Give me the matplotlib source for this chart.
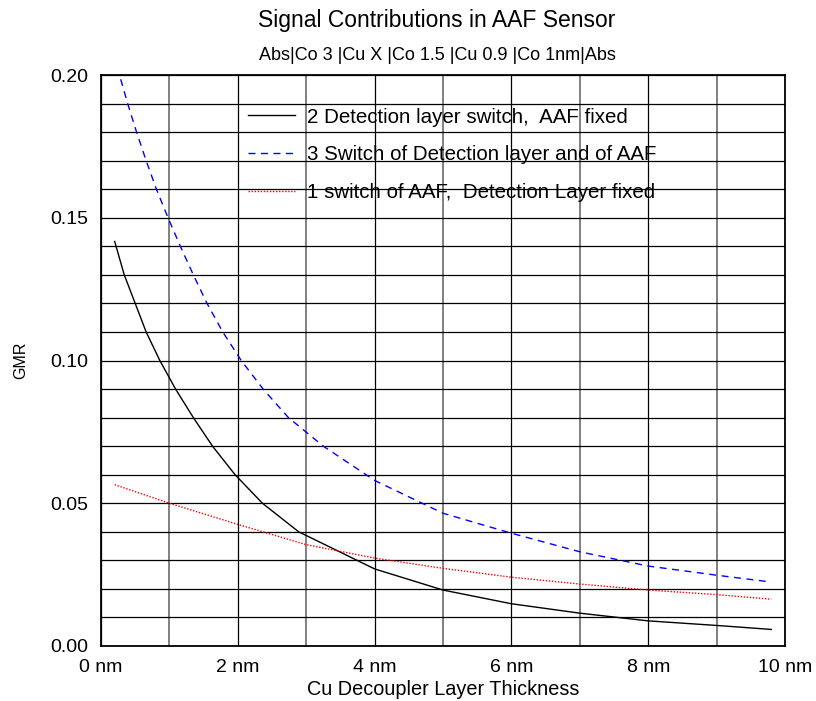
import matplotlib
matplotlib.use("Agg")
import matplotlib.pyplot as plt
import numpy as np

plt.rcParams['font.family'] = ['Liberation Sans', 'DejaVu Sans']

# Data
x_detection = [0.2, 0.34, 0.5, 0.66, 0.86, 1.09, 1.35, 1.63, 1.96, 2.36, 2.89, 4.0, 5.0, 6.0, 7.0, 8.0, 9.0, 9.8]
detection_switch = [0.1417, 0.13, 0.12, 0.11, 0.10, 0.09, 0.08, 0.07, 0.06, 0.05, 0.04, 0.027, 0.0196, 0.0148, 0.0115, 0.0088, 0.0072, 0.0058]

x_both = [0.2, 0.27, 0.39, 0.52, 0.66, 0.81, 0.98, 1.16, 1.35, 1.55, 1.78, 2.05, 2.37, 2.74, 3.25, 4.0, 5.0, 6.0, 7.0, 8.0, 9.0, 9.8]
both_switch = [0.207, 0.20, 0.19, 0.18, 0.17, 0.16, 0.15, 0.14, 0.13, 0.12, 0.11, 0.10, 0.09, 0.08, 0.07, 0.058, 0.0465, 0.0395, 0.033, 0.028, 0.0248, 0.0224]

x_aaf = [0.2, 1.0, 2.0, 3.0, 4.0, 5.0, 6.0, 7.0, 8.0, 9.0, 9.8]
aaf_switch = [0.0565, 0.050, 0.0426, 0.0355, 0.0308, 0.0272, 0.0241, 0.0217, 0.0196, 0.018, 0.0164]

labels = ["2 Detection layer switch,  AAF fixed",
          "3 Switch of Detection layer and of AAF",
          "1 switch of AAF,  Detection Layer fixed"]
x_ticks = [0, 2, 4, 6, 8, 10]
x_minor = [1, 3, 5, 7, 9]
x_ticklabels = ["0 nm", "2 nm", "4 nm", "6 nm", "8 nm", "10 nm"]
y_ticks = [0.00, 0.05, 0.10, 0.15, 0.20]
y_ticklabels = ["0.00", "0.05", "0.10", "0.15", "0.20"]

fig = plt.figure(figsize=(8.16, 7.01), dpi=100)
ax = fig.add_axes([101/816, 1-646/701, (785-101)/816, (646-75)/701])

ax.set_xlim(0, 10)
ax.set_ylim(0, 0.2)

ax.set_xticks(x_ticks)
ax.set_xticklabels(x_ticklabels)
ax.set_xticks(x_minor, minor=True)
ax.set_yticks(y_ticks)
ax.set_yticklabels(y_ticklabels)
ax.set_yticks(np.arange(0, 0.2001, 0.01), minor=True)

# grid
ax.grid(True, axis='y', which='both', color='black', linewidth=0.9)
ax.grid(True, axis='x', which='major', color='black', linewidth=0.9)
ax.grid(True, axis='x', which='minor', color='#808080', linewidth=1.4)
ax.set_axisbelow(True)

ax.tick_params(which='both', length=0, labelsize=14)
ax.tick_params(axis='x', pad=9)
ax.tick_params(axis='y', pad=9)

for s in ax.spines.values():
    s.set_linewidth(1.3)

l1, = ax.plot(x_detection, detection_switch, color='black', lw=1.0, label=labels[0])
l2, = ax.plot(x_both, both_switch, color='blue', lw=1.0, ls=(0, (5, 4)), label=labels[1])
l3, = ax.plot(x_aaf, aaf_switch, color='red', lw=1.0, ls=(0, (1, 1.2)), label=labels[2])

leg = ax.legend(handles=[l1, l2, l3], loc='upper left',
                bbox_to_anchor=(0.2149, 0.943), frameon=False, fontsize=14.8,
                borderaxespad=0, borderpad=0,
                handlelength=2.28, handletextpad=0.58, labelspacing=0.91)

ax.set_xlabel("Cu Decoupler Layer Thickness", fontsize=14.3, labelpad=3.5)
ax.set_ylabel("GMR", fontsize=11.5, labelpad=16)

fig.text(437/816, 1-20/701, "Signal Contributions in AAF Sensor", ha='center', va='center', fontsize=16.5)
fig.text(437/816, 1-55/701, "Abs|Co 3 |Cu X |Co 1.5 |Cu 0.9 |Co 1nm|Abs", ha='center', va='center', fontsize=13)

fig.savefig("out.png", dpi=100)
